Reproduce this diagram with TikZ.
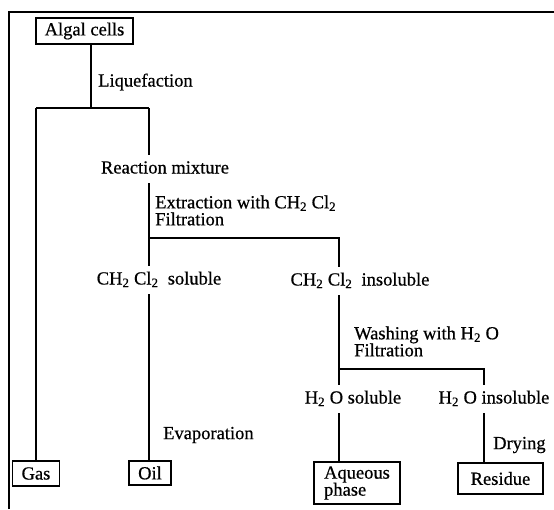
\documentclass[tikz,border=0pt]{standalone}
\usepackage{fontspec}
\setmainfont{Liberation Serif}[FakeBold=0.6]
\newcommand{\sbs}[1]{\textsubscript{#1}}
\begin{document}
\begin{tikzpicture}[x=1pt,y=-1pt,
  every node/.style={font=\fontsize{18.5}{17}\selectfont},
  wire/.style={line width=1.4pt},
  frameline/.style={line width=2.6pt},
  boxnode/.style={draw,line width=1.4pt,inner sep=0pt,align=center},
  txt/.style={inner xsep=2pt,inner ysep=6pt,text height=12.5pt,text depth=3.5pt},
  lbl/.style={inner sep=0pt,anchor=west,align=left}]
\useasboundingbox (0,0) rectangle (554,509);
\draw[frameline] (9,509) -- (9,12) -- (554,12);

% boxes
\node[boxnode,minimum width=97pt,minimum height=26pt] (algal) at (84.5,31) {Algal cells};
\node[boxnode,minimum width=47pt,minimum height=25pt] (gas) at (36,473.5) {Gas};
\node[boxnode,minimum width=42pt,minimum height=24pt] (oil) at (150,473) {Oil};
\node[boxnode,minimum width=86pt,minimum height=42pt,align=left] (aq) at (357,483) {Aqueous\\phase};
\node[boxnode,minimum width=85pt,minimum height=31pt] (res) at (500.5,478.5) {Residue};

% text nodes
\node[txt] (rm) at (165,169) {Reaction mixture};
\node[txt] (sol) at (159,280) {CH\sbs{2} Cl\sbs{2}\ \ soluble};
\node[txt] (insol) at (360,281) {CH\sbs{2} Cl\sbs{2}\ \ insoluble};
\node[txt] (hsol) at (353,399) {H\sbs{2} O soluble};
\node[txt] (hinsol) at (494,399) {H\sbs{2} O insoluble};

% junctions
\coordinate (j1) at (91,108);
\coordinate (jl) at (36,108);
\coordinate (jr) at (149,108);
\coordinate (j2) at (149,238);
\coordinate (j3) at (339,238);
\coordinate (j4) at (339,369);
\coordinate (j5) at (484,369);

% step labels
\node[lbl] (liq) at (98,82) {Liquefaction};
\node[lbl] (ext) at (155,210.5) {Extraction with CH\sbs{2} Cl\sbs{2}\\Filtration};
\node[lbl] (wash) at (354,341.5) {Washing with H\sbs{2} O\\Filtration};
\node[lbl] (evap) at (163,435) {Evaporation};
\node[lbl] (dry) at (493,445) {Drying};

% connectors
\draw[wire] (algal.south -| j1) -- (j1);
\draw[wire] (jl) -- (jr);
\draw[wire] (jl) -- (gas.north);
\draw[wire] (jr) -- (rm.north -| jr);
\draw[wire] (rm.south -| j2) -- (j2) -- (sol.north -| j2);
\draw[wire] (j2) -- (j3) -- (insol.north -| j3);
\draw[wire] (sol.south -| j2) -- (oil.north -| j2);
\draw[wire] (insol.south -| j4) -- (j4) -- (hsol.north -| j4);
\draw[wire] (j4) -- (j5) -- (hinsol.north -| j5);
\draw[wire] (hsol.south -| j4) -- (aq.north -| j4);
\draw[wire] (hinsol.south -| j5) -- (res.north -| j5);
\end{tikzpicture}
\end{document}
